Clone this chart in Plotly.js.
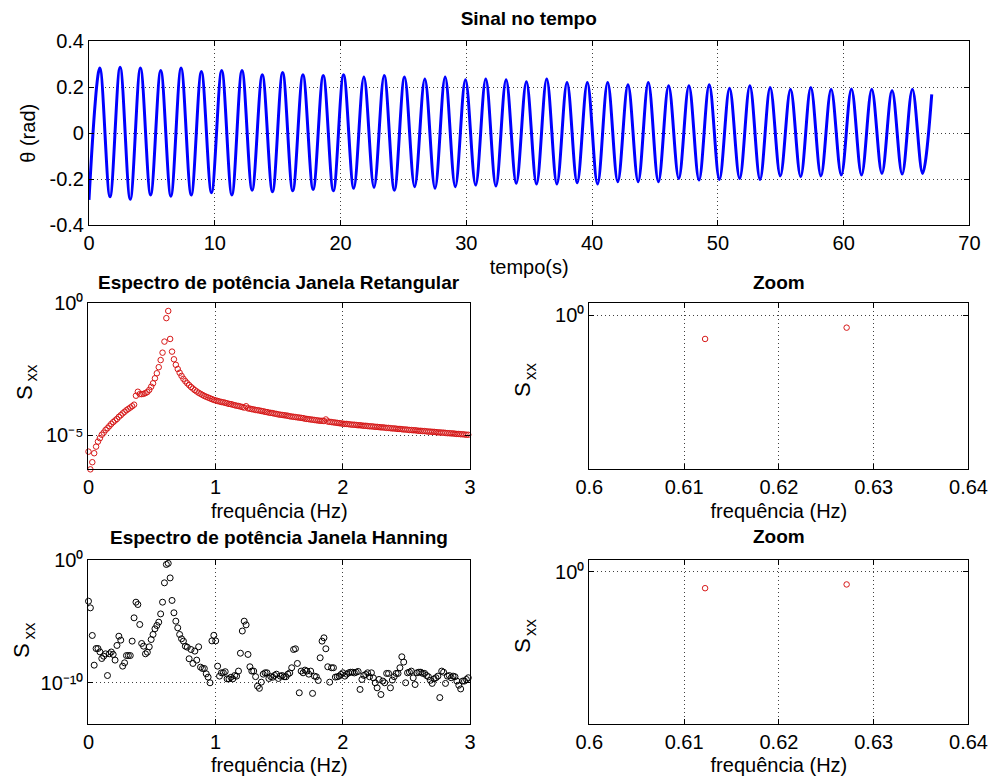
<!DOCTYPE html>
<html>
<head>
<meta charset="utf-8">
<script src="https://cdn.plot.ly/plotly-3.0.1.min.js"></script>
<style>html,body{margin:0;padding:0;background:#fff;}#chart{width:992px;height:783px;}</style>
</head>
<body>
<div id="chart"></div>
<script>
// ---- Time signal: extrema (start, alternating peaks/troughs, end) ----
const tExt = [0, 0.86, 1.67, 2.475, 3.28, 4.09, 4.90, 5.705, 6.51, 7.32, 8.13, 8.935, 9.74, 10.55, 11.36,
  12.165, 12.97, 13.78, 14.59, 15.395, 16.20, 17.01, 17.82, 18.625, 19.43, 20.24, 21.05, 21.855, 22.66,
  23.47, 24.28, 25.085, 25.89, 26.70, 27.51, 28.315, 29.12, 29.93, 30.74, 31.545, 32.35, 33.16, 33.97,
  34.775, 35.58, 36.39, 37.20, 38.005, 38.81, 39.62, 40.43, 41.235, 42.04, 42.85, 43.66, 44.465, 45.27,
  46.08, 46.89, 47.695, 48.50, 49.31, 50.12, 50.925, 51.73, 52.54, 53.35, 54.155, 54.96, 55.77, 56.58,
  57.385, 58.19, 59.00, 59.81, 60.615, 61.42, 62.23, 63.04, 63.845, 64.65, 65.46, 66.27, 67.0];
const thetaExt = [-0.29,
  0.284, -0.277, 0.288, -0.288, 0.284, -0.269, 0.274, -0.274, 0.284, -0.269, 0.269, -0.259, 0.274, -0.269,
  0.274, -0.248, 0.255, -0.255, 0.265, -0.251, 0.255, -0.245, 0.252, -0.251, 0.255, -0.240, 0.245, -0.236,
  0.252, -0.248, 0.245, -0.233, 0.237, -0.240, 0.245, -0.233, 0.233, -0.226, 0.236, -0.230, 0.233, -0.218,
  0.225, -0.221, 0.236, -0.221, 0.221, -0.216, 0.221, -0.221, 0.221, -0.211, 0.211, -0.211, 0.221, -0.211,
  0.207, -0.197, 0.207, -0.204, 0.211, -0.201, 0.196, -0.197, 0.207, -0.201, 0.199, -0.186, 0.192, -0.189,
  0.199, -0.186, 0.192, -0.182, 0.193, -0.182, 0.192, -0.175, 0.186, -0.178, 0.192, -0.175,
  0.17];

// ---- Spectra: frequency resolution (Hz) and log10(Sxx) per bin ----
const df = 0.014932;
const rectLog = [
  -5.62,-6.29,-6.02,-5.68,-5.43,-5.24,-5.11,-4.98,-4.90,-4.80,
  -4.73,-4.65,-4.57,-4.50,-4.44,-4.38,-4.30,-4.24,-4.17,-4.11,
  -4.05,-4.00,-3.95,-3.90,-3.84,-3.50,-3.35,-3.44,-3.44,-3.43,
  -3.40,-3.36,-3.28,-3.16,-3.03,-2.84,-2.65,-2.42,-2.15,-1.87,
  -1.45,-0.56,-0.29,-1.35,-1.83,-2.12,-2.33,-2.49,-2.63,-2.75,
  -2.86,-2.95,-3.03,-3.10,-3.17,-3.23,-3.29,-3.34,-3.39,-3.43,
  -3.47,-3.51,-3.54,-3.57,-3.60,-3.63,-3.66,-3.68,-3.70,-3.72,
  -3.74,-3.75,-3.77,-3.79,-3.81,-3.82,-3.84,-3.86,-3.88,-3.89,
  -3.91,-3.93,-3.95,-3.90,-3.98,-3.99,-4.01,-4.02,-4.04,-4.05,
  -4.06,-4.08,-4.09,-4.11,-4.12,-4.14,-4.15,-4.16,-4.18,-4.19,
  -4.21,-4.22,-4.23,-4.24,-4.25,-4.26,-4.28,-4.29,-4.30,-4.31,
  -4.32,-4.33,-4.34,-4.35,-4.37,-4.38,-4.39,-4.40,-4.41,-4.42,
  -4.43,-4.44,-4.45,-4.45,-4.46,-4.40,-4.48,-4.49,-4.50,-4.51,
  -4.52,-4.53,-4.54,-4.55,-4.56,-4.57,-4.57,-4.58,-4.59,-4.60,
  -4.60,-4.61,-4.62,-4.62,-4.63,-4.64,-4.64,-4.65,-4.66,-4.66,
  -4.67,-4.68,-4.68,-4.69,-4.70,-4.70,-4.71,-4.72,-4.72,-4.73,
  -4.74,-4.74,-4.75,-4.76,-4.76,-4.77,-4.78,-4.78,-4.79,-4.80,
  -4.80,-4.81,-4.81,-4.82,-4.83,-4.83,-4.84,-4.84,-4.85,-4.86,
  -4.86,-4.87,-4.87,-4.88,-4.89,-4.89,-4.90,-4.90,-4.91,-4.92,
  -4.92,-4.93,-4.93,-4.94,-4.95,-4.95,-4.96,-4.96,-4.97,-4.98,
  -4.98];
const hannLog = [
  -3.38,-3.92,-6.16,-8.57,-7.22,-7.22,-7.49,-8.03,-7.84,-7.65,
  -9.41,-7.65,-7.50,-7.70,-8.16,-6.97,-6.22,-6.54,-8.65,-8.38,
  -7.79,-7.79,-7.79,-6.62,-4.73,-3.46,-3.65,-5.27,-6.81,-7.03,
  -7.65,-7.52,-7.08,-6.49,-6.08,-5.62,-5.35,-5.08,-4.41,-3.46,
  -1.89,-0.40,-0.31,-1.49,-3.32,-4.32,-5.00,-5.54,-6.08,-6.43,
  -6.62,-7.03,-7.11,-8.05,-7.30,-8.43,-7.43,-8.16,-7.08,-8.73,
  -8.84,-8.84,-9.27,-9.54,-10.00,-6.60,-6.15,-6.60,-8.65,-9.46,
  -9.19,-9.19,-9.10,-9.68,-9.68,-9.55,-9.68,-9.41,-9.46,-9.05,
  -7.60,-5.80,-5.00,-5.30,-7.70,-8.70,-9.05,-9.05,-9.50,-10.27,
  -10.45,-9.95,-9.30,-9.19,-9.19,-9.65,-9.50,-9.55,-9.40,-9.30,
  -9.65,-9.46,-9.41,-9.51,-9.51,-9.30,-9.20,-8.78,-7.30,-7.24,
  -8.43,-10.81,-9.05,-9.19,-8.97,-9.05,-9.30,-9.05,-10.86,-9.46,
  -9.51,-9.81,-7.97,-6.62,-6.35,-7.24,-8.70,-9.95,-8.78,-8.78,
  -9.54,-9.51,-9.46,-9.32,-9.19,-9.46,-9.30,-9.19,-9.14,-9.14,
  -9.20,-9.14,-9.08,-10.54,-9.73,-9.40,-9.32,-9.19,-9.51,-9.19,
  -9.60,-10.00,-10.41,-9.73,-10.95,-9.86,-10.00,-9.24,-9.24,-10.41,
  -9.78,-9.50,-9.24,-9.24,-8.78,-7.89,-8.32,-10.00,-9.19,-9.14,
  -9.05,-9.60,-10.14,-9.19,-9.14,-9.14,-9.24,-9.24,-9.41,-9.51,
  -9.80,-10.05,-9.68,-9.59,-9.46,-11.20,-9.05,-9.14,-10.05,-9.46,
  -9.41,-9.59,-9.46,-9.51,-9.86,-10.20,-10.50,-9.86,-9.86,-9.73,
  -9.59];

// ---- Tick labels ----
const tTicks = [0,10,20,30,40,50,60,70];
const thetaTicks = [-0.4,-0.2,0,0.2,0.4];
const thetaTickText = ['-0.4','-0.2','0','0.2','0.4'];
const fTicks = [0,1,2,3];
const fZoomTicks = [0.6,0.61,0.62,0.63,0.64];
const fZoomTickText = ['0.6','0.61','0.62','0.63','0.64'];
const rectYTicks = [1e-5, 1];
const rectYTickText = ['10⁻⁵','10⁰'];
const hannYTicks = [1e-10, 1];
const hannYTickText = ['10⁻¹⁰','10⁰'];
const zoomYTicks = [1];
const zoomYTickText = ['10⁰'];

const F = 'Liberation Sans, Arial, Helvetica, sans-serif';
const rectS = rectLog.map(v => Math.pow(10, v));
const hannS = hannLog.map(v => Math.pow(10, v));

function ax(extra) {
  return Object.assign({
    showline: true, linecolor: '#000', linewidth: 1, mirror: 'ticks',
    ticks: 'inside', ticklen: 5, tickcolor: '#000', tickwidth: 1,
    showgrid: true, gridcolor: 'rgba(0,0,0,0.75)', gridwidth: 1, griddash: '1px,3px',
    zeroline: false, fixedrange: true,
    tickfont: {family: F, size: 20, color: '#000'}
  }, extra);
}
const axTitleFont = {family: F, size: 20, color: '#000'};
const boldTitle = {family: F, size: 19, color: '#000', weight: 'bold'};

const L = [0.0892, 0.4738], R = [0.5941, 0.9763], TOPX = [0.0897, 0.9773];
const TOPY = [0.7126, 0.9470], MID = [0.4006, 0.6126], BOT = [0.0754, 0.2854];

const redC = 'rgb(215,25,25)';
const traces = [
  {x: tExt, y: thetaExt, mode: 'lines', line: {color: 'rgb(0,0,255)', width: 3, shape: 'spline', smoothing: 1},
   xaxis: 'x', yaxis: 'y', hoverinfo: 'skip'},
  {x0: 0, dx: df, y: rectS, mode: 'markers', cliponaxis: false,
   marker: {symbol: 'circle-open', size: 5.5, color: redC, line: {width: 1, color: redC}}, xaxis: 'x2', yaxis: 'y2'},
  {x0: 0, dx: df, y: rectS, mode: 'markers', cliponaxis: true,
   marker: {symbol: 'circle-open', size: 5.5, color: redC, line: {width: 1, color: redC}}, xaxis: 'x3', yaxis: 'y3'},
  {x0: 0, dx: df, y: hannS, mode: 'markers', cliponaxis: false,
   marker: {symbol: 'circle-open', size: 6, color: '#000', line: {width: 1, color: '#000'}}, xaxis: 'x4', yaxis: 'y4'},
  {x0: 0, dx: df, y: hannS, mode: 'markers', cliponaxis: true,
   marker: {symbol: 'circle-open', size: 5.5, color: redC, line: {width: 1, color: redC}}, xaxis: 'x5', yaxis: 'y5'}
];

// S_xx y-labels: "S" and subscript "xx" as rotated texts (positions in px of the 992x783 page)
function sxx(sx, sy, bx, by) {
  return [
    {text: 'S', xref: 'paper', yref: 'paper', x: sx / 992, y: 1 - sy / 783, textangle: -90,
     xanchor: 'center', yanchor: 'middle', showarrow: false, font: {family: F, size: 22, color: '#000'}},
    {text: 'xx', xref: 'paper', yref: 'paper', x: bx / 992, y: 1 - by / 783, textangle: -90,
     xanchor: 'center', yanchor: 'middle', showarrow: false, font: {family: F, size: 17, color: '#000'}}
  ];
}

const layout = {
  width: 992, height: 783, margin: {l: 0, r: 0, t: 0, b: 0},
  paper_bgcolor: '#fff', plot_bgcolor: '#fff', showlegend: false,
  font: {family: F, size: 20, color: '#000'},
  title: {text: 'Sinal no tempo', font: boldTitle,
          x: 0.533, xanchor: 'center', xref: 'paper', y: 0.977, yanchor: 'middle', yref: 'paper'},
  xaxis: ax({domain: TOPX, anchor: 'y', range: [0, 70], tickvals: tTicks,
             title: {text: 'tempo(s)', font: axTitleFont, standoff: 6}}),
  yaxis: ax({domain: TOPY, anchor: 'x', range: [-0.4, 0.4], tickvals: thetaTicks, ticktext: thetaTickText,
             title: {text: 'θ (rad)', font: axTitleFont, standoff: 8}}),
  xaxis2: ax({domain: L, anchor: 'y2', range: [0, 3], tickvals: fTicks,
              title: {text: 'frequência (Hz)', font: axTitleFont, standoff: 6}}),
  yaxis2: ax({domain: MID, anchor: 'x2', type: 'log', range: [-6.29, 0], tickvals: rectYTicks, ticktext: rectYTickText}),
  xaxis3: ax({domain: R, anchor: 'y3', range: [0.6, 0.64], tickvals: fZoomTicks, ticktext: fZoomTickText,
              title: {text: 'frequência (Hz)', font: axTitleFont, standoff: 6}}),
  yaxis3: ax({domain: MID, anchor: 'x3', type: 'log', range: [-3.67, 0.29], tickvals: zoomYTicks, ticktext: zoomYTickText}),
  xaxis4: ax({domain: L, anchor: 'y4', range: [0, 3], tickvals: fTicks,
              title: {text: 'frequência (Hz)', font: axTitleFont, standoff: 6}}),
  yaxis4: ax({domain: BOT, anchor: 'x4', type: 'log', range: [-13.34, 0], tickvals: hannYTicks, ticktext: hannYTickText}),
  xaxis5: ax({domain: R, anchor: 'y5', range: [0.6, 0.64], tickvals: fZoomTicks, ticktext: fZoomTickText,
              title: {text: 'frequência (Hz)', font: axTitleFont, standoff: 6}}),
  yaxis5: ax({domain: BOT, anchor: 'x5', type: 'log', range: [-3.67, 0.29], tickvals: zoomYTicks, ticktext: zoomYTickText}),
  annotations: [
    {text: 'Espectro de potência Janela Retangular', xref: 'paper', yref: 'paper', x: 0.2815, y: 0.6386,
     xanchor: 'center', yanchor: 'middle', showarrow: false, font: boldTitle},
    {text: 'Zoom', xref: 'paper', yref: 'paper', x: 0.7852, y: 0.6392,
     xanchor: 'center', yanchor: 'middle', showarrow: false, font: boldTitle},
    {text: 'Espectro de potência Janela Hanning', xref: 'paper', yref: 'paper', x: 0.2815, y: 0.3129,
     xanchor: 'center', yanchor: 'middle', showarrow: false, font: boldTitle},
    {text: 'Zoom', xref: 'paper', yref: 'paper', x: 0.7852, y: 0.3142,
     xanchor: 'center', yanchor: 'middle', showarrow: false, font: boldTitle}
  ].concat(sxx(24, 393, 31.5, 373), sxx(522, 390, 530, 371), sxx(21, 651, 28.5, 631), sxx(522, 646, 530, 627))
};

Plotly.newPlot('chart', traces, layout, {displayModeBar: false});
</script>
</body>
</html>
